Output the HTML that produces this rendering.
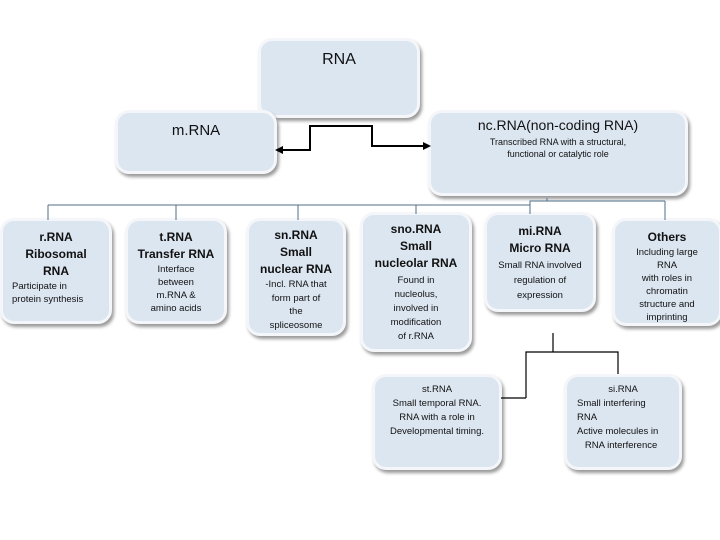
<!DOCTYPE html>
<html><head><style>
body{margin:0;width:720px;height:540px;background:#fff;position:relative;overflow:hidden;font-family:"Liberation Sans",sans-serif;}
.b{position:absolute;background:#dce6f1;border:3px solid #f4f6f9;border-radius:14px;box-shadow:2px 3px 3px #9a9a9a;box-sizing:border-box;text-align:center;color:#111;font-size:9.5px;line-height:13px;}
.t{font-weight:bold;font-size:12px;line-height:17px;}
svg{position:absolute;left:0;top:0;}
</style></head><body>
<div class="b" style="left:258px;top:38px;width:162px;height:80px;"><div style="font-size:16px;margin-top:12px;">RNA</div></div>
<div class="b" style="left:115px;top:110px;width:162px;height:64px;"><div style="font-size:15px;margin-top:11px;">m.RNA</div></div>
<div class="b" style="left:428px;top:110px;width:260px;height:86px;"><div style="font-size:14px;margin-top:6px;">nc.RNA(non-coding RNA)</div><div style="font-size:9px;line-height:12px;margin-top:4px;">Transcribed RNA with a structural,<br>functional or catalytic role</div></div>

<div class="b" style="left:0;top:218px;width:112px;height:106px;"><div class="t" style="margin-top:8px;">r.RNA<br>Ribosomal<br>RNA</div><div style="text-align:left;padding-left:9px;">Participate in<br>protein synthesis</div></div>
<div class="b" style="left:125px;top:218px;width:102px;height:106px;"><div class="t" style="margin-top:8px;">t.RNA<br>Transfer RNA</div><div>Interface<br>between<br>m.RNA &amp;<br>amino acids</div></div>
<div class="b" style="left:246px;top:218px;width:100px;height:118px;"><div class="t" style="margin-top:6px;">sn.RNA<br>Small<br>nuclear RNA</div><div style="line-height:13.5px;">-Incl. RNA that<br>form part of<br>the<br>spliceosome</div></div>
<div class="b" style="left:360px;top:212px;width:112px;height:140px;"><div class="t" style="margin-top:6px;">sno.RNA<br>Small<br>nucleolar RNA</div><div style="line-height:14px;margin-top:2px;">Found in<br>nucleolus,<br>involved in<br>modification<br>of r.RNA</div></div>
<div class="b" style="left:484px;top:212px;width:112px;height:100px;"><div class="t" style="margin-top:8px;">mi.RNA<br>Micro RNA</div><div style="line-height:15px;margin-top:1px;">Small RNA involved<br>regulation of<br>expression</div></div>
<div class="b" style="left:612px;top:218px;width:110px;height:108px;"><div class="t" style="margin-top:8px;">Others</div><div style="line-height:13px;">Including large<br>RNA<br>with roles in<br>chromatin<br>structure and<br>imprinting</div></div>
<div class="b" style="left:372px;top:374px;width:130px;height:96px;"><div style="margin-top:6px;line-height:14px;">st.RNA<br>Small temporal RNA.<br>RNA with a role in<br>Developmental timing.</div></div>
<div class="b" style="left:564px;top:374px;width:118px;height:96px;"><div style="margin-top:6px;line-height:14px;">si.RNA</div><div style="text-align:left;padding-left:10px;line-height:14px;">Small interfering<br>RNA<br>Active molecules in<br>&nbsp;&nbsp;&nbsp;RNA interference</div></div>

<svg width="720" height="540">
<g fill="none" stroke="#000" stroke-width="2">
<polyline points="281,150 310,150 310,126 372,126 372,146 424,146"/>
</g>
<polygon points="275,150 283,146 283,154" fill="#000"/>
<polygon points="431,146 423,142 423,150" fill="#000"/>
<g fill="none" stroke="#4f6f8a" stroke-width="1">
<polyline points="547,198 547,201"/>
<polyline points="48,205 530,205 530,201 665,201"/>
<line x1="48" y1="205" x2="48" y2="220"/>
<line x1="176" y1="205" x2="176" y2="220"/>
<line x1="298" y1="205" x2="298" y2="220"/>
<line x1="416" y1="205" x2="416" y2="214"/>
<line x1="530" y1="205" x2="530" y2="214"/>
<line x1="665" y1="201" x2="665" y2="220"/>
</g>
<g fill="none" stroke="#000" stroke-width="1.2">
<polyline points="553,333 553,352"/>
<polyline points="526,398 526,352 618,352 618,374"/>
<line x1="501" y1="398" x2="526" y2="398"/>
</g>
</svg>
</body></html>
